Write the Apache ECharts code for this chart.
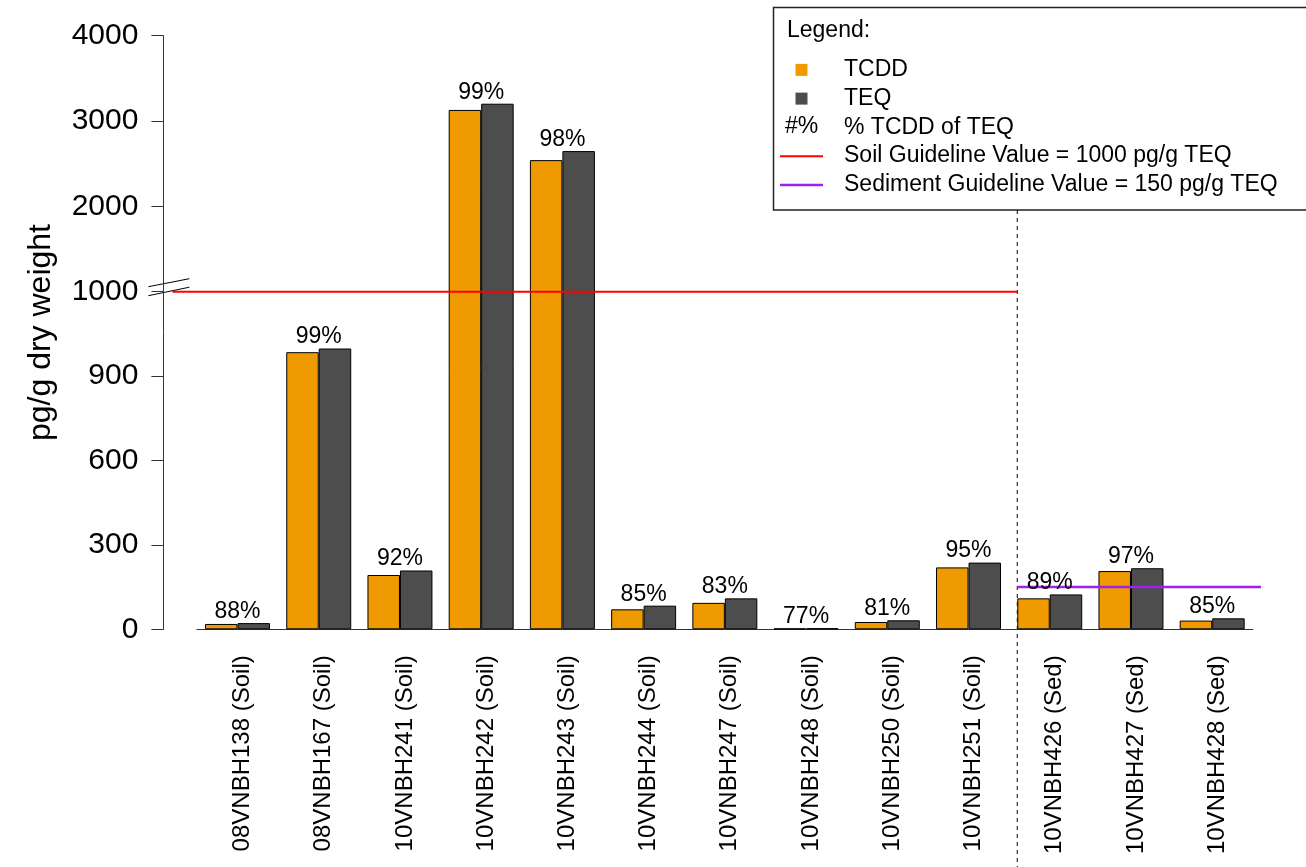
<!DOCTYPE html>
<html>
<head>
<meta charset="utf-8">
<script src="https://cdn.jsdelivr.net/npm/echarts@6/dist/echarts.min.js"></script>
<style>
  html, body { margin: 0; padding: 0; background: #fff; }
  #main { width: 1306px; height: 867px; }
</style>
</head>
<body>
<div id="main"></div>
<script>
const samples = [
  '08VNBH138 (Soil)', '08VNBH167 (Soil)', '10VNBH241 (Soil)', '10VNBH242 (Soil)',
  '10VNBH243 (Soil)', '10VNBH244 (Soil)', '10VNBH247 (Soil)', '10VNBH248 (Soil)',
  '10VNBH250 (Soil)', '10VNBH251 (Soil)', '10VNBH426 (Sed)', '10VNBH427 (Sed)',
  '10VNBH428 (Sed)'
]
const tcdd = [19, 985, 193, 3130, 2542, 71, 94, 3, 26, 220, 110, 207, 31]
const teq = [22, 998, 209, 3203, 2648, 84, 110, 4, 32, 237, 124, 217, 39]
const pctTcdd = [88, 99, 92, 99, 98, 85, 83, 77, 81, 95, 89, 97, 85]
const yTicks = [0, 300, 600, 900, 1000, 2000, 3000, 4000]

const soilGuideline = 1000
const sedimentGuideline = 150
// x extents in bar units (one bar = 1 unit, group = 2.5 units)
const soilSpan = [-0.5, 25.5]
const sedimentSpan = [25.5, 33]
const soilSedDivider = 25.5

const soilName = 'Soil Guideline Value = 1000 pg/g TEQ'
const sedName = 'Sediment Guideline Value = 150 pg/g TEQ'

// broken y axis: linear below 1000, compressed above the break
const BREAK = 1000
const BREAK_POS = 1200
const UPPER_SCALE = 0.3033
const yPos = v => (v < BREAK ? v : BREAK_POS + (v - BREAK) * UPPER_SCALE)
const yMax = yPos(4000)

const FONT = "'Liberation Sans', Arial, sans-serif"
const square = 'path://M0 0H10V10H0Z'

const chart = echarts.init(document.getElementById('main'))

chart.setOption({
  animation: false,
  grid: [
    // bars
    { left: 196.9, right: 53.2, top: 35.7, bottom: 237.7, outerBoundsMode: 'none' },
    // full plot region, in bar units, for the guideline lines
    { left: 163.4, right: 19.7, top: 35.7, bottom: 237.7, outerBoundsMode: 'none' }
  ],
  legend: {
    orient: 'vertical',
    left: 780,
    top: 55.5,
    padding: 0,
    itemWidth: 43,
    itemHeight: 12,
    itemGap: 0,
    selectedMode: false,
    textStyle: {
      fontSize: 23, color: '#000', fontFamily: FONT,
      lineHeight: 28.75, padding: [0, 0, 0, 16]
    },
    data: [
      { name: 'TCDD', icon: square, itemStyle: { borderWidth: 0 } },
      { name: 'TEQ', icon: square, itemStyle: { borderWidth: 0 } },
      { name: '% TCDD of TEQ', icon: 'rect', itemStyle: { color: 'rgba(0,0,0,0)', borderWidth: 0 } },
      { name: soilName, icon: 'path://M0 0H43V2H0Z' },
      { name: sedName, icon: 'path://M0 0H43V2.5H0Z' }
    ]
  },
  xAxis: [
    {
      type: 'category',
      gridIndex: 0,
      data: samples,
      axisLine: { lineStyle: { color: '#333', width: 1 } },
      axisTick: { alignWithLabel: true, interval: 0, length: 12, lineStyle: { color: '#333' } },
      axisLabel: {
        interval: 0, rotate: 90, fontSize: 24, color: '#000',
        fontFamily: FONT, margin: 26, verticalAlign: 'top', lineHeight: 10
      }
    },
    {
      type: 'value',
      gridIndex: 1,
      show: false,
      min: -0.78,
      max: 33.78
    }
  ],
  yAxis: [
    {
      type: 'value',
      gridIndex: 1,
      min: 0,
      max: yMax,
      splitLine: { show: false },
      axisLine: { show: true, onZero: false, lineStyle: { color: '#333', width: 1 } },
      axisTick: {
        show: true, length: 12,
        customValues: yTicks.map(yPos),
        lineStyle: { color: '#333' }
      },
      axisLabel: {
        customValues: yTicks.map(yPos),
        formatter: v => {
          const k = yTicks.find(t => Math.abs(yPos(t) - v) < 1e-6)
          return k === undefined ? '' : String(k)
        },
        fontSize: 30, color: '#000', fontFamily: FONT, margin: 25
      },
      name: 'pg/g dry weight',
      nameLocation: 'middle',
      nameRotate: 90,
      nameGap: 106,
      nameTextStyle: { fontSize: 32, color: '#000', fontFamily: FONT }
    },
    {
      type: 'value',
      gridIndex: 0,
      show: false,
      min: 0,
      max: yMax
    }
  ],
  series: [
    {
      name: 'TCDD',
      type: 'bar',
      xAxisIndex: 0,
      yAxisIndex: 1,
      data: tcdd.map(yPos),
      barWidth: 32.49,
      barGap: '0%',
      itemStyle: { color: '#EE9A00', borderColor: '#000', borderWidth: 1 }
    },
    {
      name: 'TEQ',
      type: 'bar',
      xAxisIndex: 0,
      yAxisIndex: 1,
      data: teq.map(yPos),
      barWidth: 32.49,
      barGap: '0%',
      itemStyle: { color: '#4D4D4D', borderColor: '#000', borderWidth: 1 }
    },
    {
      name: '% TCDD of TEQ',
      type: 'scatter',
      xAxisIndex: 0,
      yAxisIndex: 1,
      symbolSize: 0,
      itemStyle: { color: '#000', opacity: 1 },
      data: tcdd.map((v, i) => yPos(Math.max(v, teq[i]))),
      label: {
        show: true,
        position: 'top',
        distance: 0,
        formatter: p => pctTcdd[p.dataIndex] + '%',
        fontSize: 23, color: '#000', fontFamily: FONT
      },
      z: 5
    },
    {
      name: soilName,
      type: 'line',
      xAxisIndex: 1,
      yAxisIndex: 0,
      symbol: 'none',
      data: soilSpan.map(x => [x, yPos(soilGuideline)]),
      lineStyle: { color: '#FF0000', width: 2 },
      itemStyle: { color: '#FF0000' },
      z: 4
    },
    {
      name: sedName,
      type: 'line',
      xAxisIndex: 1,
      yAxisIndex: 0,
      symbol: 'none',
      data: sedimentSpan.map(x => [x, yPos(sedimentGuideline)]),
      lineStyle: { color: '#A020F0', width: 2.5 },
      itemStyle: { color: '#A020F0' },
      z: 4
    }
  ]
})

// decorations placed through the axes' own scales
const axisX = chart.convertToPixel({ xAxisIndex: 1 }, -0.78)
const yBreak = chart.convertToPixel({ yAxisIndex: 0 }, yPos(BREAK))
const dividerX = chart.convertToPixel({ xAxisIndex: 1 }, soilSedDivider)
const boxBottom = 210

chart.setOption({
  graphic: [
    {
      type: 'rect',
      shape: { x: 773.5, y: 7.5, width: 600, height: boxBottom - 7.5 },
      style: { fill: '#fff', stroke: '#222', lineWidth: 1.5 },
      z: -1
    },
    {
      type: 'text',
      x: 787, y: 30.5,
      style: { text: 'Legend:', fontSize: 23, fill: '#000', fontFamily: FONT, verticalAlign: 'middle' }
    },
    {
      type: 'text',
      x: 785, y: 127,
      style: { text: '#%', fontSize: 23, fill: '#000', fontFamily: FONT, verticalAlign: 'middle' }
    },
    {
      type: 'line',
      shape: { x1: dividerX, y1: boxBottom, x2: dividerX, y2: 867 },
      style: { stroke: '#000', lineWidth: 1, lineDash: [4, 4] }
    },
    {
      type: 'line',
      shape: { x1: axisX - 15, y1: yBreak - 5, x2: axisX + 26, y2: yBreak - 13 },
      style: { stroke: '#000', lineWidth: 1 }
    },
    {
      type: 'line',
      shape: { x1: axisX - 15, y1: yBreak + 4, x2: axisX + 26, y2: yBreak - 4.5 },
      style: { stroke: '#000', lineWidth: 1 }
    }
  ]
})
</script>
</body>
</html>
